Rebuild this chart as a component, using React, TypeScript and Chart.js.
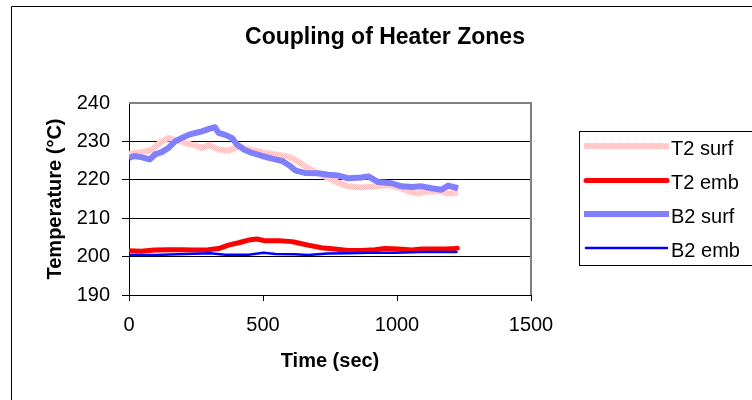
import React, { useEffect, useRef } from "react";
import { Chart, registerables } from "chart.js";

Chart.register(...registerables);

const chartTitle = "Coupling of Heater Zones";
const xAxisTitle = "Time (sec)";
const yAxisTitle = "Temperature (°C)";
const xTickValues = [0, 500, 1000, 1500];
const yTickValues = [190, 200, 210, 220, 230, 240];
const seriesNames = ["T2 surf", "T2 emb", "B2 surf", "B2 emb"];

const t2SurfTime = [0, 45, 82, 122, 147, 172, 209, 247, 272, 296, 334, 371, 409, 446, 497, 547, 597, 628, 668, 718, 768, 818, 868, 918, 968, 1017, 1042, 1080, 1117, 1166, 1191, 1228];
const t2SurfTemp = [226.8, 227.2, 227.7, 230.0, 230.9, 230.4, 229.6, 228.9, 228.3, 229.1, 227.9, 227.6, 228.7, 227.9, 227.2, 226.6, 226.0, 224.9, 223.0, 221.3, 219.6, 218.3, 218.0, 218.3, 218.6, 217.8, 217.0, 216.4, 217.0, 217.0, 216.4, 216.7];

const t2EmbTime = [0, 45, 95, 147, 197, 247, 296, 334, 371, 409, 446, 477, 509, 559, 609, 628, 668, 718, 768, 818, 868, 918, 955, 1005, 1055, 1092, 1142, 1179, 1216, 1225];
const t2EmbTemp = [201.5, 201.4, 201.7, 201.8, 201.8, 201.7, 201.8, 202.1, 203.0, 203.6, 204.3, 204.6, 204.1, 204.1, 203.9, 203.6, 203.0, 202.3, 202.0, 201.6, 201.6, 201.8, 202.1, 202.0, 201.7, 202.0, 202.0, 202.0, 202.1, 202.2];

const b2SurfTime = [0, 20, 45, 77, 97, 122, 147, 172, 197, 222, 247, 272, 296, 321, 334, 359, 384, 403, 428, 459, 497, 534, 572, 597, 622, 656, 706, 743, 781, 818, 868, 893, 930, 980, 1017, 1055, 1092, 1129, 1166, 1191, 1228];
const b2SurfTemp = [225.7, 226.2, 225.9, 225.3, 226.6, 227.2, 228.3, 230.0, 230.9, 231.7, 232.2, 232.6, 233.2, 233.7, 232.2, 231.7, 230.9, 229.2, 227.9, 227.0, 226.2, 225.5, 224.9, 223.8, 222.4, 221.8, 221.7, 221.3, 221.1, 220.4, 220.6, 220.9, 219.4, 219.1, 218.3, 218.1, 218.3, 217.8, 217.4, 218.5, 217.8];

const b2EmbTime = [0, 95, 181, 303, 359, 446, 502, 547, 618, 668, 742, 818, 893, 992, 1092, 1142, 1222];
const b2EmbTemp = [200.4, 200.4, 200.6, 200.9, 200.5, 200.5, 201.0, 200.7, 200.6, 200.4, 200.8, 200.9, 201.0, 201.0, 201.2, 201.2, 201.2];

const FONT = "'Liberation Sans', Arial, sans-serif";

function pairs(xs: number[], ys: number[]) {
  return xs.map((x, i) => ({ x, y: ys[i] }));
}

function makePinkPattern(): CanvasPattern | string {
  const c = document.createElement("canvas");
  c.width = 2;
  c.height = 2;
  const g = c.getContext("2d");
  if (!g) return "#FFCCCC";
  g.fillStyle = "#FFE4E4";
  g.fillRect(0, 0, 2, 2);
  g.fillStyle = "#FFBABA";
  g.fillRect(0, 0, 1, 1);
  g.fillRect(1, 1, 1, 1);
  const p = g.createPattern(c, "repeat");
  return p || "#FFCCCC";
}

const decorPlugin = {
  id: "decor",
  beforeDraw(chart: any) {
    const ctx = chart.ctx;
    ctx.save();
    ctx.fillStyle = "#fff";
    ctx.fillRect(0, 0, chart.width, chart.height);
    ctx.strokeStyle = "#000";
    ctx.lineWidth = 1;
    ctx.beginPath();
    ctx.moveTo(11.5, chart.height + 5);
    ctx.lineTo(11.5, 6.5);
    ctx.lineTo(chart.width + 5, 6.5);
    ctx.stroke();
    ctx.restore();
  },
  beforeDatasetsDraw(chart: any) {
    const ctx = chart.ctx;
    const a = chart.chartArea;
    ctx.save();
    ctx.strokeStyle = "#808080";
    ctx.lineWidth = 2;
    ctx.beginPath();
    ctx.moveTo(a.left, a.top);
    ctx.lineTo(a.right, a.top);
    ctx.lineTo(a.right, a.bottom);
    ctx.stroke();
    ctx.restore();
  },
  afterDraw(chart: any) {
    const ctx = chart.ctx;
    ctx.save();
    ctx.fillStyle = "#000";
    ctx.font = `bold 23px ${FONT}`;
    ctx.textAlign = "center";
    ctx.textBaseline = "alphabetic";
    ctx.fillText(chartTitle, 385, 44);
    const boxL = 579.5, boxT = 131.5, boxB = 265.5;
    ctx.strokeStyle = "#000";
    ctx.lineWidth = 1;
    ctx.strokeRect(boxL, boxT, chart.width, boxB - boxT);
    const ys = [146, 180.5, 214, 248];
    chart.data.datasets.forEach((ds: any, i: number) => {
      const y = ys[i];
      const round = ds.borderCapStyle === "round";
      ctx.beginPath();
      ctx.strokeStyle = ds.borderColor;
      ctx.lineWidth = ds.borderWidth;
      ctx.lineCap = round ? "round" : "butt";
      ctx.moveTo(round ? 586 : 584, y);
      ctx.lineTo(round ? 667 : 669, y);
      ctx.stroke();
      ctx.fillStyle = "#000";
      ctx.font = `20px ${FONT}`;
      ctx.textAlign = "left";
      ctx.textBaseline = "alphabetic";
      ctx.fillText(ds.label, 671, y + 8.5);
    });
    ctx.restore();
  },
};

export default function App() {
  const ref = useRef<HTMLCanvasElement | null>(null);

  useEffect(() => {
    if (!ref.current) return;
    const pink = makePinkPattern();
    const chart = new Chart(ref.current, {
      type: "line",
      data: {
        datasets: [
          {
            label: seriesNames[0],
            data: pairs(t2SurfTime, t2SurfTemp),
            borderColor: pink as any,
            borderWidth: 6,
            pointRadius: 0,
            order: 4,
            borderJoinStyle: "round",
          },
          {
            label: seriesNames[1],
            data: pairs(t2EmbTime, t2EmbTemp),
            borderColor: "#FF0000",
            borderWidth: 5,
            pointRadius: 0,
            order: 3,
            borderCapStyle: "round",
            borderJoinStyle: "round",
          },
          {
            label: seriesNames[2],
            data: pairs(b2SurfTime, b2SurfTemp),
            borderColor: "#8080FF",
            borderWidth: 6,
            pointRadius: 0,
            order: 2,
            borderJoinStyle: "round",
          },
          {
            label: seriesNames[3],
            data: pairs(b2EmbTime, b2EmbTemp),
            borderColor: "#0000FF",
            borderWidth: 2.5,
            pointRadius: 0,
            order: 1,
            borderCapStyle: "round",
            borderJoinStyle: "round",
          },
        ],
      },
      options: {
        animation: false,
        responsive: false,
        devicePixelRatio: 1,
        layout: { padding: { left: 0, top: 103, right: 221, bottom: 0 } },
        plugins: {
          legend: { display: false },
          title: { display: false },
          tooltip: { enabled: false },
        },
        scales: {
          x: {
            type: "linear",
            min: xTickValues[0],
            max: xTickValues[xTickValues.length - 1],
            afterBuildTicks: (s: any) => {
              s.ticks = xTickValues.map((v) => ({ value: v }));
            },
            afterFit: (s: any) => {
              s.height = 105;
            },
            grid: { drawOnChartArea: false, drawTicks: true, tickLength: 6, color: "#000" },
            border: { display: true, color: "#000", width: 1 },
            ticks: {
              color: "#000",
              padding: 12,
              font: { family: FONT, size: 20 },
              maxRotation: 0,
              callback: (v: any) => String(v),
            },
            title: {
              display: true,
              text: xAxisTitle,
              color: "#000",
              font: { family: FONT, size: 20, weight: "bold" },
              padding: { top: 0, bottom: 27 },
            },
          },
          y: {
            type: "linear",
            min: yTickValues[0],
            max: yTickValues[yTickValues.length - 1],
            afterBuildTicks: (s: any) => {
              s.ticks = yTickValues.map((v) => ({ value: v }));
            },
            afterFit: (s: any) => {
              s.width = 129;
            },
            grid: {
              drawTicks: true,
              tickLength: 7,
              color: (c: any) => (c.tick && c.tick.value === 240 ? "rgba(0,0,0,0)" : "#000"),
            },
            border: { display: true, color: "#000", width: 1 },
            ticks: {
              color: "#000",
              padding: 12,
              font: { family: FONT, size: 20 },
              callback: (v: any) => String(v),
            },
            title: {
              display: true,
              text: yAxisTitle,
              color: "#000",
              font: { family: FONT, size: 20, weight: "bold" },
              padding: { top: 43, bottom: 0 },
            },
          },
        },
      } as any,
      plugins: [decorPlugin],
    });
    return () => chart.destroy();
  }, []);

  return (
    <div style={{ position: "fixed", left: 0, top: 0, width: 752, height: 400, overflow: "hidden", background: "#fff" }}>
      <canvas ref={ref} width={752} height={400} style={{ width: 752, height: 400, display: "block" }} />
    </div>
  );
}
